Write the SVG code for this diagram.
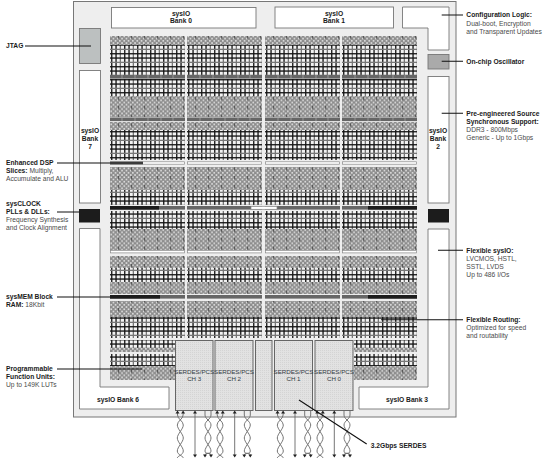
<svg xmlns="http://www.w3.org/2000/svg" xmlns:xlink="http://www.w3.org/1999/xlink" width="554" height="464" viewBox="0 0 554 464">
<style>
text{font-family:"Liberation Sans",Arial,sans-serif;font-size:6.7px;fill:#4a4a4a}
.b{font-weight:bold;fill:#1a1a1a}
.m{text-anchor:middle}
.s{font-size:6.2px;fill:#333b44}
.io{fill:#fff;stroke:#777;stroke-width:.9}
.k{fill:#1c1c1c}
.g{fill:#666}
.w{fill:#fff;stroke:#888;stroke-width:.7}
.d{fill:url(#dots)}
.n{fill:url(#grid)}
.sd{fill:url(#sdp);stroke:#666;stroke-width:1}
.l{stroke:#111;stroke-width:1.1;fill:none}
.p{stroke:#666;stroke-width:.9;fill:none}
</style>
<defs>
<pattern id="dots" patternUnits="userSpaceOnUse" width="13" height="8.8">
<rect width="13" height="8.8" fill="#8c8c8c"/>
<g fill="#dcdcdc">
<rect x=".4" y=".4" width="1.7" height="1.7"/><rect x="4.7" y=".4" width="1.7" height="1.7"/><rect x="9" y=".4" width="1.7" height="1.7"/>
<rect x="2.6" y="2.6" width="1.7" height="1.7"/><rect x="6.9" y="2.6" width="1.7" height="1.7"/><rect x="11.2" y="2.6" width="1.7" height="1.7"/>
<rect x=".4" y="4.8" width="1.7" height="1.7"/><rect x="4.7" y="4.8" width="1.7" height="1.7"/><rect x="9" y="4.8" width="1.7" height="1.7"/>
<rect x="2.6" y="7" width="1.7" height="1.7"/><rect x="6.9" y="7" width="1.7" height="1.7"/><rect x="11.2" y="7" width="1.7" height="1.7"/>
</g>
<rect x="8.400" width=".8" height="3.600" fill="#333"/>
</pattern>
<pattern id="grid" patternUnits="userSpaceOnUse" width="13" height="13">
<rect width="13" height="13" fill="#f2f2f2"/>
<rect x="1.100" width="1.300" height="13" fill="#111"/>
<rect x="5.400" width="1.300" height="13" fill="#111"/>
<rect x="9.700" width="1.300" height="13" fill="#777"/>
<rect y="1.100" width="13" height="1.300" fill="#111"/>
<rect y="5.400" width="13" height="1.300" fill="#111"/>
<rect y="9.700" width="13" height="1.300" fill="#777"/>
</pattern>
<pattern id="sdp" patternUnits="userSpaceOnUse" width="2" height="2">
<rect width="2" height="2" fill="#e2e2e2"/><rect width="1" height="1" fill="#d4d4d4"/>
</pattern>
<g id="col">
<rect class="d" y="36" width="75" height="9"/><rect class="n" y="45" width="75" height="30"/>
<rect class="g" y="75" width="75" height="3.600"/>
<rect class="n" y="79" width="75" height="17"/><rect class="d" y="96" width="75" height="21"/>
<rect class="g" y="117.500" width="75" height="3.600"/>
<rect class="d" y="122" width="75" height="8"/><rect class="n" y="130" width="75" height="30"/>
<rect class="w" x=".5" y="161.800" width="74" height="2.400"/>
<rect class="d" y="167" width="75" height="23"/><rect class="n" y="190" width="75" height="15"/>
<rect class="g" y="206" width="75" height="3.600"/>
<rect class="n" y="211" width="75" height="18"/><rect class="d" y="229" width="75" height="21"/>
<rect class="w" x=".5" y="250.500" width="74" height="2.400"/>
<rect class="d" y="256" width="75" height="12"/><rect class="n" y="268" width="75" height="14"/><rect class="d" y="282" width="75" height="12"/>
<rect class="g" y="295" width="75" height="3.600"/>
<rect class="d" y="301" width="75" height="16"/><rect class="n" y="317" width="75" height="21"/>
<rect class="n" y="340" width="75" height="8"/><rect class="d" y="348" width="75" height="4"/>
<rect class="n" y="354" width="75" height="12"/><rect class="d" y="366" width="75" height="14"/>
</g>
<g id="pa">
<path class="p" d="M-2.800 413V415C-2.800 419 3 421 3 425S-3 434 -3 438 3 447 3 451 -3 456 -3 458M2.800 413V415C2.800 419 -3 421 -3 425S3 434 3 438 -3 447 -3 451 3 456 3 458"/>
<path d="M-2.800 410.500l-2 3h4zM2.800 410.500l-2 3h4z" fill="#222"/>
</g>
<g id="pb">
<path class="p" d="M-3 411V415C-3 419 3 421 3 425S-3 434 -3 438 3 447 3 451 -3 452 -3 455M3 411V415C3 419 -3 421 -3 425S3 434 3 438 -3 447 -3 451 3 452 3 455"/>
<path d="M-3 457.500l-2-3h4zM3 457.500l-2-3h4z" fill="#222"/>
</g>
<g id="ps">
<path class="p" d="M0 413V455"/>
<path d="M0 410.500l-2 3h4zM0 457.500l-2-3h4z" fill="#222"/>
</g>
</defs>
<rect width="554" height="464" fill="#fff"/>
<rect id="chip" x="73.500" y="1.500" width="382.500" height="415.500" fill="#eeeeee" stroke="#777" stroke-width="1"/>
<g id="fabric">
<use href="#col" x="110"/><use href="#col" x="187"/><use href="#col" x="265"/><use href="#col" x="342"/>
<rect x="175" y="338.500" width="179" height="44" fill="#eee"/>
<rect x="110" y="206" width="49" height="3.600" class="k"/>
<rect x="368" y="206" width="49" height="3.600" class="k"/>
<rect x="110" y="295" width="50" height="3.600" class="k"/>
<rect x="368" y="295" width="49" height="3.600" class="k"/>
<rect x="110" y="161.500" width="33" height="3" class="g"/>
<rect class="w" x="251" y="206.300" width="26" height="3"/>
<path d="M122 75v3.600M135 75v3.600M148 75v3.600M161 75v3.600M173 75v3.600M200 75v3.600M213 75v3.600M225 75v3.600M238 75v3.600M250 75v3.600M278 75v3.600M291 75v3.600M303 75v3.600M316 75v3.600M328 75v3.600M355 75v3.600M368 75v3.600M380 75v3.600M393 75v3.600M405 75v3.600M122 117.500v3.600M135 117.500v3.600M148 117.500v3.600M161 117.500v3.600M173 117.500v3.600M200 117.500v3.600M213 117.500v3.600M225 117.500v3.600M238 117.500v3.600M250 117.500v3.600M278 117.500v3.600M291 117.500v3.600M303 117.500v3.600M316 117.500v3.600M328 117.500v3.600M355 117.500v3.600M368 117.500v3.600M380 117.500v3.600M393 117.500v3.600M405 117.500v3.600" stroke="#bbb" stroke-width=".6"/>
</g>
<g id="bank0"><rect class="io" x="111.500" y="7.500" width="144.500" height="20.500"/><text class="b m" x="181" y="15.700">sysIO</text><text class="b m" x="181" y="23.400">Bank 0</text></g>
<g id="bank1"><rect class="io" x="275" y="7" width="118.500" height="21"/><text class="b m" x="334" y="15.700">sysIO</text><text class="b m" x="334" y="23.400">Bank 1</text></g>
<g id="config"><path class="io" d="M402.500 7H449V50H428V28H402.500Z"/></g>
<g id="osc"><rect x="428" y="54.500" width="21" height="14.500" fill="#aaa" stroke="#777" stroke-width=".9"/></g>
<g id="bank2"><rect class="io" x="428" y="76.500" width="21" height="126.500"/><text class="b m" x="438" y="133">sysIO</text><text class="b m" x="438" y="140.700">Bank</text><text class="b m" x="438" y="148.700">2</text></g>
<g id="pll-right"><rect class="k" x="428" y="209" width="21" height="13.500"/></g>
<g id="bank3"><path class="io" d="M428 229H449V409H359V387H428Z"/><text class="b m" x="407" y="402">sysIO Bank 3</text></g>
<g id="jtag"><rect x="79.500" y="28.500" width="21" height="35" fill="#bcc0c0" stroke="#777" stroke-width=".9"/></g>
<g id="bank7"><rect class="io" x="79.500" y="70.500" width="21" height="132.500"/><text class="b m" x="90" y="133.400">sysIO</text><text class="b m" x="90" y="141">Bank</text><text class="b m" x="90" y="149">7</text></g>
<g id="pll-left"><rect class="k" x="79" y="209" width="21" height="13.500"/></g>
<g id="bank6"><path class="io" d="M79.500 228.500H100V387H169V409H79.500Z"/><text class="b m" x="118" y="402">sysIO Bank 6</text></g>
<g id="serdes">
<g id="ch3"><rect class="sd" x="175.500" y="340.500" width="37.500" height="70"/><text class="s m" x="194.200" y="373.500">SERDES/PCS</text><text class="s m" x="194.200" y="380.500">CH 3</text></g>
<g id="ch2"><rect class="sd" x="215" y="340.500" width="38" height="70"/><text class="s m" x="234" y="373.500">SERDES/PCS</text><text class="s m" x="234" y="380.500">CH 2</text></g>
<g id="aux"><rect class="sd" x="255.500" y="340.500" width="16.500" height="70"/></g>
<g id="ch1"><rect class="sd" x="274.500" y="340.500" width="38" height="70"/><text class="s m" x="293.500" y="373.500">SERDES/PCS</text><text class="s m" x="293.500" y="380.500">CH 1</text></g>
<g id="ch0"><rect class="sd" x="315" y="340.500" width="38" height="70"/><text class="s m" x="334" y="373.500">SERDES/PCS</text><text class="s m" x="334" y="380.500">CH 0</text></g>
</g>
<g id="pins">
<use href="#pa" x="180.300"/><use href="#ps" x="195"/><use href="#pb" x="208"/>
<use href="#pa" x="220"/><use href="#ps" x="234.700"/><use href="#pb" x="247.300"/>
<use href="#pa" x="280.300"/><use href="#ps" x="295"/><use href="#pb" x="307.700"/>
<use href="#pa" x="320"/><use href="#ps" x="334.300"/><use href="#pb" x="347"/>
</g>
<g id="connectors">
<path class="l" d="M25 46H91M57 163H143M57 212H79M57 297H110M57 369H142M441.700 15H463M441.700 61.300H463M441.700 113.300H463M438 250.300H463M381 319.700H463M299 400L366.700 444"/>
</g>
<g id="labels">
<text class="b" x="6" y="48.400">JTAG</text>
<text class="b" x="6" y="164.700">Enhanced DSP</text>
<text x="6" y="172.700"><tspan class="b">Slices:</tspan> Multiply,</text>
<text x="6" y="181">Accumulate and ALU</text>
<text class="b" x="6" y="206">sysCLOCK</text>
<text class="b" x="6" y="214.400">PLLs &amp; DLLs:</text>
<text x="6" y="222.400">Frequency Synthesis</text>
<text x="6" y="230.400">and Clock Alignment</text>
<text class="b" x="6" y="299">sysMEM Block</text>
<text x="6" y="307.400"><tspan class="b">RAM:</tspan> 18Kbit</text>
<text class="b" x="6" y="371">Programmable</text>
<text class="b" x="6" y="379">Function Units:</text>
<text x="6" y="387">Up to 149K LUTs</text>
<text class="b" x="466.300" y="17.400">Configuration Logic:</text>
<text x="466.300" y="25.700">Dual-boot, Encryption</text>
<text x="466.300" y="33.700">and Transparent Updates</text>
<text class="b" x="466.300" y="63.700">On-chip Oscillator</text>
<text class="b" x="466.300" y="116">Pre-engineered Source</text>
<text class="b" x="466.300" y="124">Synchronous Support:</text>
<text x="466.300" y="132">DDR3 - 800Mbps</text>
<text x="466.300" y="140">Generic - Up to 1Gbps</text>
<text class="b" x="466.300" y="252.700">Flexible sysIO:</text>
<text x="466.300" y="261">LVCMOS, HSTL,</text>
<text x="466.300" y="269">SSTL, LVDS</text>
<text x="466.300" y="277">Up to 486 I/Os</text>
<text class="b" x="466.300" y="322">Flexible Routing:</text>
<text x="466.300" y="330.400">Optimized for speed</text>
<text x="466.300" y="338.400">and routability</text>
<text class="b" x="370.700" y="447.700">3.2Gbps SERDES</text>
</g>
</svg>
